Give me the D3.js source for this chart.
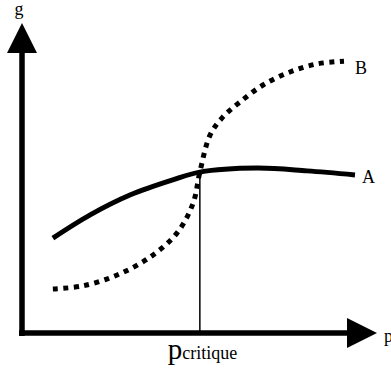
<!DOCTYPE html>
<html>
<head>
<meta charset="utf-8">
<script src="https://cdn.jsdelivr.net/npm/d3@7"></script>
<style>
  body { margin: 0; background: #fff; }
  svg { display: block; }
  text { font-family: "Liberation Serif", "Times New Roman", serif; }
</style>
</head>
<body>
<svg id="chart"></svg>
<script>
// chart size
const width = 391;
const height = 372;

// curve A (solid): x / g values (axis units 0..100)
const aX = [8.7, 19.2, 30.4, 42.5, 50.1, 66.2, 80.3, 93.8];
const aY = [30.6, 38.1, 44.5, 49.4, 51.9, 53.2, 52.3, 51.0];

// curve B (dotted)
const bX = [8.7, 17.2, 26.8, 36.1, 43.7, 48.2, 50.1, 53.0, 56.6, 61.4, 67.9, 75.5, 83.1, 90.7];
const bY = [14.2, 15.2, 18.7, 24.5, 32.3, 41.9, 51.9, 63.9, 69.7, 74.5, 80.0, 84.2, 86.8, 87.7];

// critical p, where both curves cross
const pCrit = 50.1;

// labels
const axisLabels = ["g", "p"];
const curveLabels = ["A", "B"];

const svg = d3.select("#chart")
    .attr("width", width)
    .attr("height", height);

// scales: origin at the axes corner, 100 at the arrow tips
const x = d3.scaleLinear().domain([0, 100]).range([22, 377]);
const y = d3.scaleLinear().domain([0, 100]).range([333, 23]);

const line = d3.line()
    .x(d => x(d[0]))
    .y(d => y(d[1]))
    .curve(d3.curveCatmullRom.alpha(0.5));

// critical vertical line
svg.append("line")
    .attr("x1", x(pCrit)).attr("x2", x(pCrit))
    .attr("y1", y(aY[aX.indexOf(pCrit)])).attr("y2", y(0))
    .attr("stroke", "#000")
    .attr("stroke-width", 1.5);

// curve A
svg.append("path")
    .attr("d", line(d3.zip(aX, aY)))
    .attr("fill", "none")
    .attr("stroke", "#000")
    .attr("stroke-width", 5);

// curve B (square dots)
svg.append("path")
    .attr("d", line(d3.zip(bX, bY)))
    .attr("fill", "none")
    .attr("stroke", "#000")
    .attr("stroke-width", 5)
    .attr("stroke-dasharray", "5,5.5");

// axes (thick lines with filled arrow heads)
const head = 30;   // arrow head length
const half = 15;   // arrow head half width
const x0 = x(0), y0 = y(0), xEnd = x(100), yEnd = y(100);

svg.append("path")
    .attr("d", `M${x0},${y0 + 3}V${yEnd + head}M${x0 - 3},${y0}H${xEnd - head}`)
    .attr("fill", "none")
    .attr("stroke", "#000")
    .attr("stroke-width", 5.5);

svg.append("path")
    .attr("d", `M${x0},${yEnd}L${x0 - half},${yEnd + head}L${x0 + half},${yEnd + head}Z`)
    .attr("fill", "#000");

svg.append("path")
    .attr("d", `M${xEnd},${y0}L${xEnd - head},${y0 - half}L${xEnd - head},${y0 + half}Z`)
    .attr("fill", "#000");

// axis labels
svg.append("text")
    .attr("x", x0 - 3).attr("y", yEnd - 8)
    .attr("text-anchor", "middle")
    .attr("font-size", 18)
    .text(axisLabels[0]);

svg.append("text")
    .attr("x", xEnd + 7).attr("y", y0 + 9)
    .attr("font-size", 18)
    .text(axisLabels[1]);

// curve labels at the end of each curve
svg.append("text")
    .attr("x", x(aX[aX.length - 1]) + 7).attr("y", y(aY[aY.length - 1]) + 8)
    .attr("font-size", 18)
    .text(curveLabels[0]);

svg.append("text")
    .attr("x", x(bX[bX.length - 1]) + 11).attr("y", y(bY[bY.length - 1]) + 13)
    .attr("font-size", 18)
    .text(curveLabels[1]);

// p critique label under the axis
const crit = svg.append("text")
    .attr("x", x(pCrit) - 32).attr("y", 359);
crit.append("tspan").attr("font-size", 29).text("p");
crit.append("tspan").attr("font-size", 18).text("critique");
</script>
</body>
</html>
